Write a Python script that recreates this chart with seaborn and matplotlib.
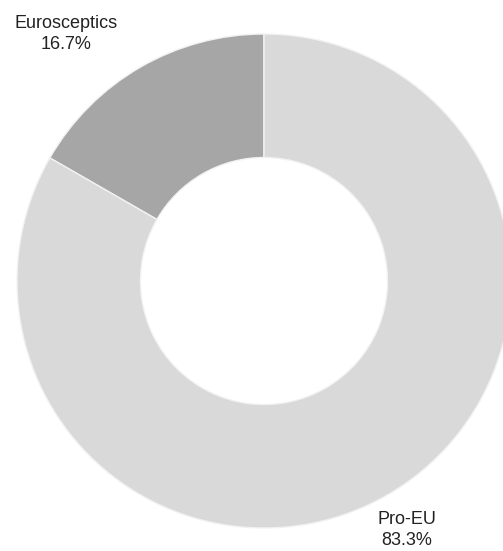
import matplotlib
matplotlib.use("Agg")
import matplotlib.pyplot as plt
import seaborn as sns

# Data
groups = ["Eurosceptics", "Pro-EU"]
shares = [16.7, 83.3]
colors = ["#a6a6a6", "#d9d9d9"]

sns.set_theme(style="white")
plt.rcParams['font.family'] = ['Liberation Sans', 'DejaVu Sans']

fig = plt.figure(figsize=(5.03, 5.51), dpi=100)
ax = fig.add_axes([0, 0, 1, 1])

# donut, drawn in pixel-like coordinates
cx, cy, r = 264, 551 - 281, 247
ax.pie(shares, colors=colors, startangle=90, counterclock=True,
       center=(cx, cy), radius=r,
       wedgeprops=dict(width=r * 0.5, edgecolor="#f2f2f2", linewidth=1))

# labels
label_pos = [(66, 551 - 34), (407, 551 - 530)]
for name, val, (x, y) in zip(groups, shares, label_pos):
    ax.text(x, y, f"{name}\n{val:.1f}%", ha="center", va="center",
            fontsize=13, color="#222222", linespacing=1.3)

ax.set_xlim(0, 503)
ax.set_ylim(0, 551)
ax.set_aspect("equal")
ax.axis("off")

fig.savefig("out.png", dpi=100)
